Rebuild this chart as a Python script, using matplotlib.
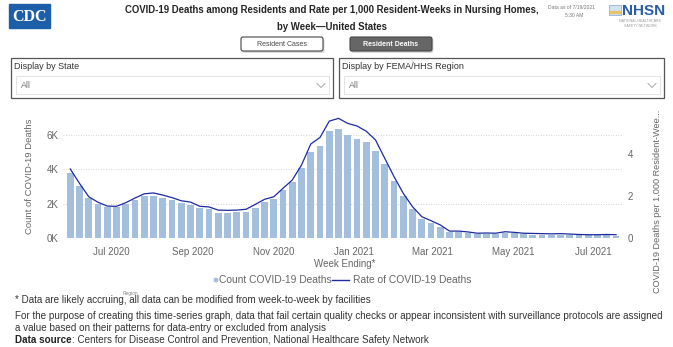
import pandas as pd
import matplotlib
matplotlib.use('Agg')
import matplotlib.pyplot as plt
import matplotlib.dates as mdates
from matplotlib.patches import Rectangle, FancyBboxPatch
from matplotlib.ticker import FuncFormatter

plt.rcParams['font.family'] = ['Liberation Sans', 'DejaVu Sans']

# figure size in pixels
W, H = 673, 347

# weekly data, week ending dates
week_ending = pd.date_range('2020-05-31', periods=60, freq='7D')
count_deaths = [3780, 3040, 2330, 2000, 1800, 1790, 1980, 2250, 2480, 2480,
                2360, 2230, 2030, 1960, 1740, 1730, 1490, 1490, 1530, 1530,
                1760, 2090, 2270, 2790, 3270, 4070, 5020, 5370, 6220, 6340,
                6000, 5790, 5600, 5090, 4320, 3350, 2460, 1690, 1100, 870,
                680, 390, 390, 330, 230, 250, 270, 330, 290, 250,
                220, 210, 200, 200, 190, 180, 170, 170, 170, 160]
rate_deaths = [3.27, 2.59, 1.96, 1.70, 1.52, 1.51, 1.68, 1.90, 2.10, 2.14,
               2.04, 1.92, 1.77, 1.71, 1.51, 1.48, 1.33, 1.32, 1.33, 1.37,
               1.60, 1.84, 1.96, 2.36, 2.75, 3.46, 4.45, 4.76, 5.53, 5.66,
               5.42, 5.30, 5.05, 4.64, 3.77, 2.91, 2.12, 1.49, 1.02, 0.83,
               0.63, 0.34, 0.34, 0.30, 0.24, 0.25, 0.24, 0.31, 0.28, 0.24,
               0.23, 0.22, 0.21, 0.22, 0.20, 0.18, 0.17, 0.17, 0.18, 0.17]

left_ticks = [0, 2000, 4000, 6000]
right_ticks = [0, 2, 4]

title_lines = ['COVID-19 Deaths among Residents and Rate per 1,000 Resident-Weeks in Nursing Homes,',
               'by Week\u2014United States']
footnotes = ['* Data are likely accruing, all data can be modified from week-to-week by facilities',
             'For the purpose of creating this time-series graph, data that fail certain quality checks or appear inconsistent with surveillance protocols are assigned',
             'a value based on their patterns for data-entry or excluded from analysis']

bar_color = '#A3BFDD'
line_color = '#1C2A9E'
grey = '#666666'

fig = plt.figure(figsize=(W / 100, H / 100), dpi=100)

# background axes in pixel coordinates for the report decorations
bg = fig.add_axes([0, 0, 1, 1])
bg.set_xlim(0, W)
bg.set_ylim(H, 0)
bg.axis('off')

# CDC logo
bg.add_patch(Rectangle((9, 4), 41, 24, color='#1C5EA8'))
bg.text(29.5, 16.5, 'CDC', color='white', fontsize=11.5, fontweight='bold',
        family='Liberation Serif', ha='center', va='center')

# title
bg.text(332, 10, title_lines[0], fontsize=6.9, fontweight='bold', color='#252423',
        ha='center', va='center')
bg.text(332, 27, title_lines[1], fontsize=6.9, fontweight='bold', color='#252423',
        ha='center', va='center')

# data date
bg.text(571, 7, 'Data as of 7/19/2021', fontsize=3.6, color='#777777', ha='center', va='center')
bg.text(574, 15, '5:30 AM', fontsize=3.6, color='#777777', ha='center', va='center')

# NHSN logo
bg.add_patch(Rectangle((609, 5), 12, 10, facecolor='#CFE3F3', edgecolor='#7FA7CF', lw=0.5))
bg.add_patch(Rectangle((610, 11), 10, 2, color='#E8C26A'))
bg.text(622, 10.5, 'NHSN', fontsize=11, fontweight='bold', color='#2A5CA8',
        ha='left', va='center')
bg.text(640, 20.5, 'NATIONAL HEALTHCARE', fontsize=2.6, color='#999999', ha='center', va='center')
bg.text(640, 25.5, 'SAFETY NETWORK', fontsize=2.6, color='#999999', ha='center', va='center')

# toggle buttons
for x0, label, face, txt, weight in [(241, 'Resident Cases', 'white', '#444444', 'normal'),
                                     (350, 'Resident Deaths', '#666666', 'white', 'bold')]:
    bg.add_patch(FancyBboxPatch((x0 + 1.5, 39), 82, 14, boxstyle='round,pad=0,rounding_size=2',
                                facecolor='#d8d8d8', edgecolor='none'))
    bg.add_patch(FancyBboxPatch((x0, 37), 82, 14, boxstyle='round,pad=0,rounding_size=2',
                                facecolor=face, edgecolor='#444444', lw=0.8))
    bg.text(x0 + 41, 44, label, fontsize=5, color=txt, fontweight=weight,
            ha='center', va='center')

# slicers
for x0, x1, label in [(11, 333, 'Display by State'), (339, 664, 'Display by FEMA/HHS Region')]:
    bg.add_patch(Rectangle((x0, 58), x1 - x0, 40, facecolor='white', edgecolor='#555555', lw=0.9))
    bg.text(x0 + 3, 66, label, fontsize=6.5, color='#333333', ha='left', va='center')
    bg.add_patch(Rectangle((x0 + 5, 76), x1 - x0 - 9, 18, facecolor='white',
                           edgecolor='#e4e4e4', lw=0.7))
    bg.text(x0 + 10, 85.5, 'All', fontsize=6.3, color='#777777', ha='left', va='center')
    cx = x1 - 12
    bg.plot([cx - 4, cx, cx + 4], [83.5, 87.5, 83.5], color='#999999', lw=0.6)

# axis titles and legend
bg.text(30, 176, 'Count of COVID-19 Deaths', fontsize=6.8, color=grey, rotation=90,
        ha='center', va='center')
bg.text(657, 201, 'COVID-19 Deaths per 1,000 Resident-Wee...', fontsize=6.6, color=grey,
        rotation=90, ha='center', va='center')
bg.text(345, 264, 'Week Ending*', fontsize=7, color=grey, ha='center', va='center')

bg.scatter([216], [280], s=12, color=bar_color, edgecolor='none')
bg.text(219, 280, 'Count COVID-19 Deaths', fontsize=7.4, color=grey, ha='left', va='center')
bg.plot([332, 349], [280, 280], color=line_color, lw=1)
bg.text(353, 280, 'Rate of COVID-19 Deaths', fontsize=7.4, color=grey, ha='left', va='center')

bg.text(130, 293, 'Region', fontsize=3.5, color='#888888', ha='center', va='center')

# footnotes
fs = 7.1
for y, line in zip([300, 316, 328], footnotes):
    bg.text(15, y, line, fontsize=fs, color='#333333', ha='left', va='center')
src = bg.text(15, 340, 'Data source', fontsize=fs, color='#222222', fontweight='bold',
              ha='left', va='center')
renderer = fig.canvas.get_renderer()
bb = src.get_window_extent(renderer)
bg.text(15 + bb.width * 100 / fig.dpi, 340,
        ': Centers for Disease Control and Prevention, National Healthcare Safety Network',
        fontsize=fs, color='#333333', ha='left', va='center')

# main chart
ax = fig.add_axes([63 / W, 1 - 238.3 / H, (622 - 63) / W, (238.3 - 112) / H])
ax.patch.set_alpha(0)
ax.bar(week_ending, count_deaths, width=5, color=bar_color, zorder=2)
ax.set_ylim(0, 7340)
ax.set_yticks(left_ticks)
ax.yaxis.set_major_formatter(FuncFormatter(lambda v, p: f'{v / 1000:.0f}K'))
ax.yaxis.grid(True, linestyle=(0, (1, 2)), color='#c8c8c8', lw=0.6, zorder=0)
ax.set_xlim(week_ending[0] - pd.Timedelta(days=5.5), week_ending[-1] + pd.Timedelta(days=4.5))
ax.xaxis.set_major_locator(mdates.MonthLocator(bymonth=[1, 3, 5, 7, 9, 11]))
ax.xaxis.set_major_formatter(mdates.DateFormatter('%b %Y'))
ax.tick_params(axis='both', length=0, labelsize=7, labelcolor=grey)
ax.tick_params(axis='x', pad=6)
ax.tick_params(axis='y', pad=3)
for s in ax.spines.values():
    s.set_visible(False)

ax2 = ax.twinx()
ax2.plot(week_ending, rate_deaths, color=line_color, lw=0.9, zorder=3)
ax2.set_ylim(0, 5.96)
ax2.set_yticks(right_ticks)
ax2.tick_params(axis='y', length=0, labelsize=7, labelcolor=grey, pad=4)
for s in ax2.spines.values():
    s.set_visible(False)

fig.savefig('out.png', dpi=100)
